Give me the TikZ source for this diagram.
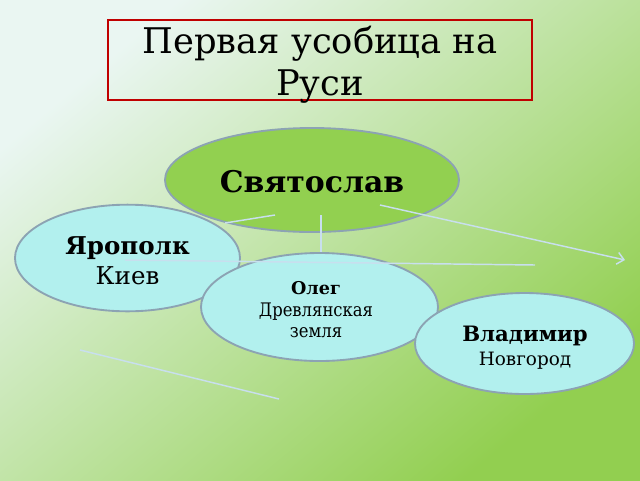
\documentclass[tikz,border=0pt]{standalone}
\usepackage{fontspec}
\setmainfont{DejaVu Serif}
\newfontfamily\condserif{DejaVu Serif}[FakeStretch=0.88]
\usetikzlibrary{shapes.geometric,arrows.meta}
\definecolor{bgA}{HTML}{EAF6F2}
\definecolor{bgB}{HTML}{C4E4A8}
\definecolor{bgC}{HTML}{92CF50}
\definecolor{titleRed}{HTML}{C00000}
\definecolor{rimGray}{HTML}{8CA3B3}
\definecolor{leafCyan}{HTML}{B2F0EE}
\definecolor{rootGreen}{HTML}{92D050}
\definecolor{linkBlue}{HTML}{C8DFEE}
\tikzset{
  rootbox/.style={ellipse, draw=rimGray, line width=1.4pt, fill=rootGreen, inner sep=0pt},
  leafbox/.style={ellipse, draw=rimGray, line width=1.4pt, fill=leafCyan, inner sep=0pt},
  titlebox/.style={rectangle, draw=titleRed, line width=2.1pt, inner sep=0pt},
  linkline/.style={draw=linkBlue, line width=1.1pt},
  textline/.style={anchor=base, inner sep=0pt},
}
\begin{document}
\begin{tikzpicture}[x=0.75pt,y=-0.75pt]
\useasboundingbox (0,0) rectangle (640,480);
\shade[top color=bgA, middle color=bgB, bottom color=bgC, shading angle=40] (0,0) rectangle (640,480);
% title
\node[titlebox, minimum width=318pt, minimum height=60pt] (title) at (320,60) {};
\node[textline, font=\fontsize{26.5}{30}\selectfont] (title1) at (320,53) {Первая усобица на};
\node[textline, font=\fontsize{26.5}{30}\selectfont] (title2) at (320,95) {Руси};
% ellipses
\node[rootbox, minimum width=220.5pt, minimum height=78pt] (sv) at (312,180) {};
\node[textline, font=\fontsize{22.4}{26}\selectfont\bfseries] (svt) at (312,192) {Святослав};
\node[leafbox, minimum width=168.75pt, minimum height=80pt] (ya) at (127.5,258) {};
\node[textline, font=\fontsize{18.4}{22}\selectfont\bfseries] (ya1) at (127.5,254) {Ярополк};
\node[textline, font=\fontsize{18.4}{22}\selectfont] (ya2) at (127.5,284) {Киев};
\node[leafbox, minimum width=177.75pt, minimum height=81pt] (ol) at (319.5,307) {};
\node[textline, font=\fontsize{13.2}{17}\selectfont\bfseries] (ol1) at (316,294) {Олег};
\node[textline, font=\fontsize{14}{17}\selectfont\condserif] (ol2) at (316,316.5) {Древлянская};
\node[textline, font=\fontsize{14}{17}\selectfont\condserif] (ol3) at (316,337) {земля};
\node[leafbox, minimum width=164.25pt, minimum height=75.75pt] (vl) at (524.5,343.5) {};
\node[textline, font=\fontsize{15.9}{19}\selectfont\bfseries] (vl1) at (525,341.5) {Владимир};
\node[textline, font=\fontsize{13.8}{17}\selectfont] (vl2) at (525,365.5) {Новгород};
% free-floating connectors
\coordinate (l1a) at (225,223); \coordinate (l1b) at (275,215);
\coordinate (l2a) at (321,215); \coordinate (l2b) at (321,252);
\coordinate (l3a) at (125,260); \coordinate (l3b) at (535,265);
\coordinate (l4a) at (380,205); \coordinate (l4b) at (625,260);
\coordinate (l5a) at (80,350);  \coordinate (l5b) at (279,399);
\draw[linkline] (l1a) -- (l1b);
\draw[linkline] (l2a) -- (l2b);
\draw[linkline] (l3a) -- (l3b);
\draw[linkline, -{Straight Barb[length=5pt,width=9pt]}] (l4a) -- (l4b);
\draw[linkline] (l5a) -- (l5b);
\end{tikzpicture}
\end{document}
